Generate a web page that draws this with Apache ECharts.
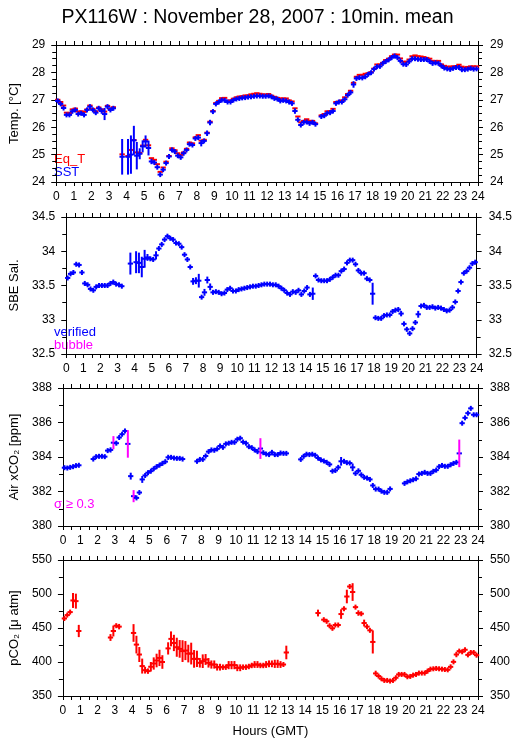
<!DOCTYPE html>
<html><head><meta charset="utf-8">
<script src="https://cdn.jsdelivr.net/npm/echarts@6.0.0/dist/echarts.min.js"></script>
<style>html,body{margin:0;padding:0;background:#fff}#c{width:515px;height:739px}</style>
</head><body><div id="c"></div>
<script>
// ---- data: 10-minute means, slot i covers [i*10min, (i+1)*10min) ----
const hourLabels = ['0','1','2','3','4','5','6','7','8','9','10','11','12','13','14','15','16','17','18','19','20','21','22','23','24'];

const eqT = [27.00,26.92,26.79,26.53,26.52,26.65,26.68,26.57,26.58,26.56,
26.65,26.79,26.67,26.58,26.72,26.65,26.57,26.78,26.67,26.73,
null,null,25.01,null,24.95,25.17,25.53,25.08,25.06,25.33,
25.54,25.34,24.87,24.81,24.65,24.37,24.53,24.74,24.95,25.23,
25.16,25.05,24.99,25.08,25.21,25.44,25.41,25.63,25.71,25.51,
25.54,25.80,26.20,26.59,26.88,26.96,27.06,27.07,26.96,26.98,
27.04,27.09,27.12,27.13,27.16,27.16,27.20,27.22,27.24,27.22,
27.20,27.19,27.21,27.15,27.11,27.07,27.05,27.05,27.05,26.98,
26.94,26.69,26.39,26.18,26.23,26.29,26.23,26.23,26.14,null,
26.43,26.48,26.58,26.58,26.67,26.92,26.94,26.98,27.09,27.21,
27.33,27.62,27.84,27.91,27.91,27.95,27.97,28.01,28.14,28.29,
28.29,28.35,28.45,28.50,28.59,28.65,28.65,28.51,28.39,28.39,
28.47,28.59,28.62,28.59,28.58,28.56,28.53,28.50,28.42,28.42,
28.42,28.29,28.24,28.21,28.21,28.22,28.23,28.28,28.21,28.18,
28.20,28.22,28.22,28.22];

const sst = [26.96,26.85,26.70,26.45,26.45,26.58,26.63,26.48,26.51,26.45,
26.63,26.75,26.63,26.53,26.69,26.59,26.48,26.75,26.63,26.69,
null,null,24.92,null,24.92,25.00,25.52,24.96,25.03,25.30,
25.48,25.24,24.75,24.71,24.54,24.27,24.45,24.69,24.93,25.17,
25.11,24.96,24.90,25.05,25.17,25.38,25.35,25.59,25.62,25.42,
25.50,25.78,26.17,26.57,26.85,26.92,26.99,26.98,26.92,26.92,
26.99,27.03,27.05,27.07,27.08,27.10,27.11,27.13,27.14,27.14,
27.13,27.13,27.14,27.11,27.05,27.03,26.96,26.98,26.96,26.92,
26.87,26.59,26.27,26.08,26.18,26.19,26.14,26.18,26.11,null,
26.39,26.42,26.51,26.53,26.59,26.87,26.92,26.92,27.02,27.17,
27.27,27.56,27.78,27.81,27.80,27.84,27.93,27.99,28.12,28.21,
28.22,28.33,28.40,28.46,28.54,28.60,28.54,28.42,28.30,28.29,
28.40,28.50,28.50,28.48,28.47,28.47,28.47,28.40,28.33,28.35,
28.33,28.24,28.16,28.13,28.11,28.15,28.18,28.18,28.10,28.10,
28.12,28.15,28.12,28.13];
const sstErr = {15:0.1,16:0.22,22:0.65,24:0.65,25:0.7,26:0.53,27:0.5,28:0.2,29:0.22,30:0.22,31:0.27,32:0.1,35:0.08,49:0.12,51:0.1,52:0.1,53:0.07,81:0.1,82:0.08,101:0.12};

const sal = [33.61,33.67,33.69,33.81,33.80,33.69,33.53,33.51,33.45,33.43,
33.48,33.50,33.50,33.50,33.50,33.53,33.55,33.52,33.51,33.49,
null,null,33.82,null,33.84,33.83,33.77,33.89,33.91,33.89,
33.88,33.94,34.04,34.10,34.17,34.22,34.19,34.17,34.12,34.11,
34.06,33.95,33.88,33.77,33.56,33.57,33.57,33.33,33.40,33.58,
33.48,33.40,33.41,33.40,33.38,33.39,33.44,33.46,33.42,33.42,
33.44,33.45,33.46,33.47,33.48,33.49,33.49,33.50,33.51,33.52,
33.52,33.52,33.51,33.51,33.49,33.46,33.43,33.39,33.37,33.41,
33.40,33.43,33.37,33.42,33.47,33.37,33.38,33.64,33.58,33.57,
33.57,33.57,33.59,33.62,33.65,33.65,33.71,33.74,33.83,33.87,
33.87,33.81,33.72,33.68,33.68,33.60,33.58,33.38,33.03,33.02,
33.02,33.06,33.07,33.07,33.12,33.14,33.15,33.09,32.94,32.86,
32.80,32.87,32.96,33.08,33.20,33.21,33.18,33.18,33.19,33.17,
33.18,33.17,33.15,33.13,33.14,33.18,33.26,33.42,33.55,33.68,
33.71,33.76,33.82,33.84];
const salErr = {22:0.16,24:0.16,25:0.15,26:0.15,27:0.13,28:0.05,31:0.06,44:0.05,45:0.05,46:0.1,48:0.05,49:0.05,50:0.05,86:0.09,107:0.16,117:0.04,123:0.05};

const xco2 = [383.38,383.36,383.40,383.44,383.50,383.52,null,null,null,null,
383.88,384.02,384.04,384.04,384.02,384.37,384.41,384.83,384.80,385.13,
385.32,385.51,384.76,382.89,381.73,381.63,381.94,382.70,382.93,383.09,
383.18,383.32,383.44,383.53,383.63,383.73,383.98,383.98,383.94,383.92,
383.92,383.88,null,null,null,null,383.75,383.86,383.86,384.06,
384.31,384.41,384.39,384.47,384.64,384.56,384.76,384.80,384.85,384.85,
385.03,385.09,384.87,384.80,384.60,384.54,384.41,384.31,384.49,384.25,
384.17,384.14,384.27,384.14,384.14,384.23,384.21,384.21,null,null,
null,null,383.86,384.04,384.16,384.14,384.16,384.10,383.94,383.83,
383.77,383.69,383.57,383.18,383.22,383.40,383.75,383.75,383.67,383.65,
383.40,383.05,383.20,382.97,382.82,382.78,382.70,382.35,382.14,382.14,
382.02,381.95,381.95,382.15,null,null,null,null,382.47,382.56,
382.62,382.68,382.74,383.01,383.05,383.11,383.05,383.05,383.17,383.24,
383.44,383.51,383.46,383.46,383.55,383.63,383.69,384.21,385.96,386.27,
386.54,386.82,386.45,386.45];
const xco2Err = {16:0.15,17:0.38,22:0.8,23:0.2,24:0.35,27:0.2,36:0.15,68:0.6,96:0.25,100:0.22,137:0.8};

const pco2 = [464,469,473.4,490.5,489.5,445.6,null,null,null,null,
null,null,null,null,null,null,436,445.6,453.4,452,
null,null,null,null,442.7,425.6,411,394,388,386.6,
393,397.8,402.2,406,400,null,420,434,428,421.7,
419.3,416,416.8,412.4,412.4,404.6,404.6,398.8,401.2,403.7,
398.8,396.3,396.3,392.4,392.4,392.4,392.4,395.4,395.4,395.4,
391.5,391.5,392.4,392.4,393.4,394.9,396.3,396.3,394.9,394.9,
396.3,397.3,397.3,397.3,397.3,396.3,396.3,414,null,null,
null,null,null,null,null,null,null,null,472,null,
462.2,459.8,453.4,449.5,454.4,454.4,470.5,478.3,496.3,511,
502.9,480.7,472,471,457.3,452,446.6,429.5,383.2,379.3,
375.4,372.9,372.9,372,372.9,376.8,381.7,381.7,381.7,378.3,
378.8,380.7,381.7,383.7,383.7,383.7,386.6,389.5,390,390.5,
390,389.5,389,388.5,392.9,400.2,411,416,415,418,
410.5,414,414,410];
const pco2Err = {3:11,4:11,5:9,16:5,17:8,19:4,24:13,25:13,26:11,27:11,28:5,29:4,30:7,31:9,32:10,33:12,34:10,36:9,37:11,38:12,39:14,40:13,41:16,42:14,43:13,44:16,45:13,46:12,47:7,48:10,49:8,50:7,51:6,52:6,53:5,54:5,55:4,56:4,57:6,58:6,59:6,60:5,61:5,62:4,63:4,64:4,65:4,66:5,67:5,68:4,69:4,70:5,71:5,72:5,73:6,74:6,75:5,76:3,77:10,88:5,91:3,96:7,98:10,100:13,102:4,104:5,107:17,108:4,136:4};

// ---- build ----
const SLOT_H = 10 / 60;
function build(vals, errs) {
  const out = [];
  vals.forEach((v, i) => {
    if (v === null) return;
    out.push([(i + 0.5) * SLOT_H, v, (errs && errs[i]) || 0]);
  });
  return out;
}

const RED = '#ff0000', BLUE = '#0000ff', MAG = '#ff00ff';
const FONT = '"Liberation Sans", Arial, Helvetica, sans-serif';

function crossRenderer(hColor, vColor, vert, magThreshold) {
  return function (params, api) {
    const t = api.value(0), v = api.value(1), e = api.value(2);
    const c = api.coord([t, v]);
    const l = api.coord([t - SLOT_H / 2, v]);
    const r = api.coord([t + SLOT_H / 2, v]);
    const kids = [{
      type: 'line',
      shape: { x1: l[0] - 1.2, y1: c[1], x2: r[0] + 1.2, y2: c[1] },
      style: { stroke: hColor, lineWidth: 2 }
    }];
    if (vert) {
      const top = api.coord([t, v + e]), bot = api.coord([t, v - e]);
      const half = Math.max((bot[1] - top[1]) / 2, 2.5);
      const col = (magThreshold != null && e >= magThreshold) ? MAG : vColor;
      kids.push({
        type: 'line',
        shape: { x1: c[0], y1: c[1] - half, x2: c[0], y2: c[1] + half },
        style: { stroke: col, lineWidth: 2 }
      });
    }
    return { type: 'group', children: kids };
  };
}

const panels = [
  { top: 45, height: 137, min: 24, max: 29, interval: 1, minor: 4, name: 'Temp. [°C]', gap: 31, dec: 0 },
  { top: 217, height: 137, min: 32.5, max: 34.5, interval: 0.5, minor: 2, name: 'SBE Sal.', gap: 45, dec: 1 },
  { top: 388, height: 138, min: 380, max: 388, interval: 2, minor: 2, name: 'Air xCO₂ [ppm]', gap: 42, dec: 0 },
  { top: 560, height: 138, min: 350, max: 550, interval: 50, minor: 2, name: 'pCO₂ [μ atm]', gap: 41, dec: 0 }
];

const grids = [], xAxes = [], yAxes = [];
const lineStyle = { color: '#000', width: 1 };
const labelStyle = { color: '#000', fontSize: 12, fontFamily: FONT };
panels.forEach((p, k) => {
  grids.push({ left: 51, width: 427, top: p.top, height: p.height, containLabel: false });
  xAxes.push({
    type: 'value', gridIndex: k, position: 'bottom', min: 0, max: 24, interval: 1,
    axisLine: { show: true, onZero: false, lineStyle },
    axisTick: { show: true, length: 4, lineStyle },
    minorTick: { show: true, splitNumber: 2, length: 4, lineStyle },
    splitLine: { show: false },
    axisLabel: { ...labelStyle, margin: 9, formatter: v => hourLabels[Math.round(v)] },
    name: k === 3 ? 'Hours (GMT)' : '', nameLocation: 'middle', nameGap: 29,
    nameTextStyle: { color: '#000', fontSize: 13, fontFamily: FONT }
  });
  xAxes.push({
    type: 'value', gridIndex: k, position: 'top', min: 0, max: 24, interval: 1,
    axisLine: { show: true, onZero: false, lineStyle },
    axisTick: { show: true, length: 4, lineStyle },
    minorTick: { show: true, splitNumber: 2, length: 4, lineStyle },
    splitLine: { show: false }, axisLabel: { show: false }
  });
  const fmt = v => p.dec ? v.toFixed(1).replace(/\.0$/, '') : String(v);
  yAxes.push({
    type: 'value', gridIndex: k, position: 'left', min: p.min, max: p.max, interval: p.interval,
    axisLine: { show: true, onZero: false, lineStyle },
    axisTick: { show: true, length: 5, lineStyle },
    minorTick: { show: true, splitNumber: p.minor, length: 4, lineStyle },
    splitLine: { show: false },
    axisLabel: { ...labelStyle, margin: 11, formatter: fmt },
    name: p.name, nameLocation: 'middle', nameGap: p.gap, nameRotate: 90,
    nameTextStyle: { color: '#000', fontSize: 13, fontFamily: FONT }
  });
  yAxes.push({
    type: 'value', gridIndex: k, position: 'right', min: p.min, max: p.max, interval: p.interval,
    axisLine: { show: true, onZero: false, lineStyle },
    axisTick: { show: true, length: 5, lineStyle },
    minorTick: { show: true, splitNumber: p.minor, length: 4, lineStyle },
    splitLine: { show: false },
    axisLabel: { ...labelStyle, margin: 12, formatter: fmt }
  });
});

function custom(k, data, h, v, vert, mag) {
  return {
    type: 'custom', xAxisIndex: 2 * k, yAxisIndex: 2 * k, data,
    encode: { x: 0, y: 1 }, renderItem: crossRenderer(h, v, vert, mag), silent: true
  };
}

const series = [
  custom(0, build(eqT, null), RED, RED, false, null),
  custom(0, build(sst, sstErr), BLUE, BLUE, true, null),
  custom(1, build(sal, salErr), BLUE, BLUE, true, null),
  custom(2, build(xco2, xco2Err), BLUE, BLUE, true, 0.3),
  custom(3, build(pco2, pco2Err), RED, RED, true, null)
];

function txt(text, left, top, fill) {
  return { type: 'text', left, top, style: { text, fill, fontSize: 13, fontFamily: FONT } };
}

const option = {
  animation: false,
  backgroundColor: '#fff',
  title: { text: 'PX116W : November 28, 2007 : 10min. mean', left: 'center', top: 3,
    textStyle: { color: '#000', fontSize: 19.5, fontWeight: 'normal', fontFamily: FONT } },
  grid: grids, xAxis: xAxes, yAxis: yAxes, series,
  graphic: [
    txt('Eq_T', 54, 153, RED),
    txt('SST', 54, 166, BLUE),
    txt('verified', 54, 326, BLUE),
    txt('bubble', 54, 339, MAG),
    txt('σ ≥ 0.3', 54, 498, MAG)
  ]
};
const chart = echarts.init(document.getElementById('c'), null, { renderer: 'canvas' });
chart.setOption(option);
</script></body></html>
